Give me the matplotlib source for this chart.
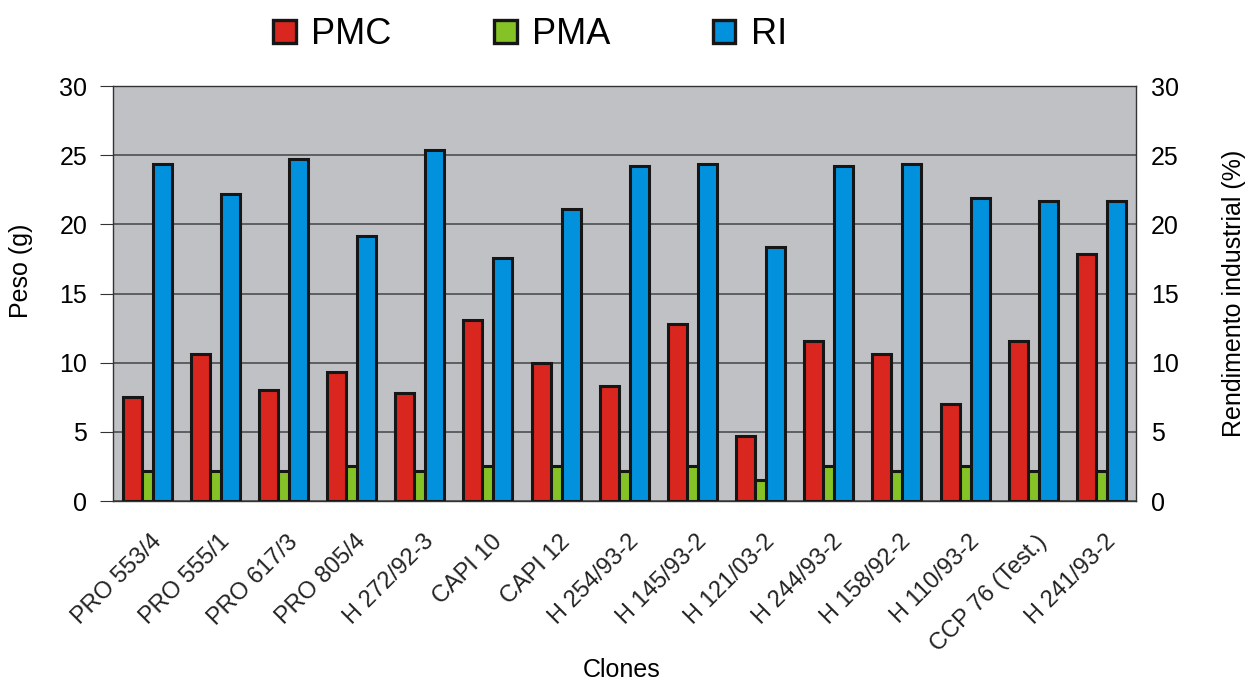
import numpy as np
import matplotlib
matplotlib.use("Agg")
import matplotlib.pyplot as plt
import matplotlib.patches as mpatches
from matplotlib.transforms import ScaledTranslation

plt.rcParams['font.family'] = ['Liberation Sans', 'DejaVu Sans']

clones = ["PRO 553/4", "PRO 555/1", "PRO 617/3", "PRO 805/4", "H 272/92-3",
          "CAPI 10", "CAPI 12", "H 254/93-2", "H 145/93-2", "H 121/03-2",
          "H 244/93-2", "H 158/92-2", "H 110/93-2", "CCP 76 (Test.)", "H 241/93-2"]
pmc = [7.5, 10.6, 8.0, 9.3, 7.8, 13.1, 10.0, 8.3, 12.8, 4.7, 11.6, 10.6, 7.0, 11.6, 17.9]
pma = [2.2, 2.2, 2.2, 2.5, 2.2, 2.5, 2.5, 2.2, 2.5, 1.5, 2.5, 2.2, 2.5, 2.2, 2.2]
ri = [24.4, 22.2, 24.7, 19.2, 25.4, 17.6, 21.1, 24.2, 24.4, 18.4, 24.2, 24.4, 21.9, 21.7, 21.7]

cores = ['#d9261e', '#84c225', '#0191dd']

fig = plt.figure(figsize=(12.5, 6.84), dpi=100)
ax = fig.add_axes([0.0904, 0.2675, 0.818, 0.6065])
ax.set_facecolor('#c0c1c5')

x = np.arange(len(clones))
w = 0.28
edge = dict(edgecolor='#161616', linewidth=2.2)
ax.bar(x, pma, w, color=cores[1], zorder=2, **edge)
ax.bar(x - 0.22, pmc, w, color=cores[0], zorder=3, **edge)
ax.bar(x + 0.22, ri, w, color=cores[2], zorder=4, **edge)

ax.set_xlim(-0.5, len(clones) - 0.5)
ax.set_ylim(0, 30)
ax.set_yticks(range(0, 31, 5))
ax.yaxis.grid(True, color='#444444', linewidth=1.1)
ax.set_axisbelow(True)
for s in ax.spines.values():
    s.set_color('#333333')
    s.set_linewidth(1.0)

ax.tick_params(axis='y', labelsize=18, length=9.5, color='#333333', pad=9)
ax.tick_params(axis='x', length=0, pad=2)
ax.set_xticks(x)
ax.set_xticklabels(clones, rotation=45, ha='right', rotation_mode='anchor', fontsize=17)
# desloca os rótulos dos clones para baixo
desloc = ScaledTranslation(0.03, -0.27, fig.dpi_scale_trans)
for lab in ax.get_xticklabels():
    lab.set_transform(lab.get_transform() + desloc)
    lab.set_color('#222222')

ax.set_ylabel("Peso (g)", fontsize=18)
ax.yaxis.set_label_coords(-0.078, 0.555)
fig.text(0.497, 14 / 684, "Clones", ha='center', va='center', fontsize=18)

ax2 = ax.twinx()
ax2.set_ylim(0, 30)
ax2.set_yticks(range(0, 31, 5))
ax2.tick_params(axis='y', labelsize=18, length=0, pad=11)
ax2.set_ylabel("Rendimento industrial (%)", fontsize=18, labelpad=31)
for s in ax2.spines.values():
    s.set_visible(False)

handles = [mpatches.Patch(facecolor=c, edgecolor='#161616', linewidth=2.4) for c in cores]
fig.legend(handles, ["PMC", "PMA", "RI"], loc='upper center', ncol=3,
           bbox_to_anchor=(0.424, 1.022), frameon=False, fontsize=26,
           handlelength=0.62, handleheight=0.62, handletextpad=0.42,
           columnspacing=2.85)

fig.savefig("out.png", dpi=100)
